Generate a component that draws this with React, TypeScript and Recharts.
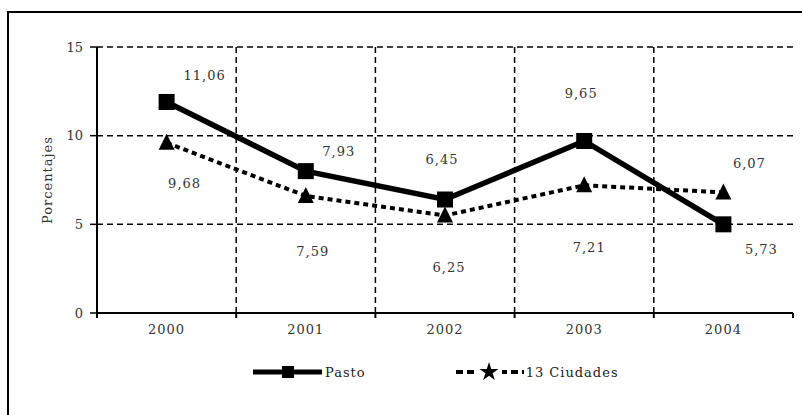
import { CartesianGrid, LabelList, Legend, Line, LineChart, Symbols, XAxis, YAxis } from "recharts";

const years = ["2000", "2001", "2002", "2003", "2004"];
const pasto = [11.9, 8.0, 6.4, 9.7, 5.0];
const ciudades = [9.6, 6.6, 5.5, 7.2, 6.8];
const pastoLabels = ["11,06", "7,93", "6,45", "9,65", "5,73"];
const ciudadesLabels = ["9,68", "7,59", "6,25", "7,21", "6,07"];
const yTicks = [0, 5, 10, 15];

// where each value label sits relative to its marker (px)
const pastoLabelOffsets = [[38, -26], [33, -20], [-3, -40], [-3, -47], [38, 25]];
const ciudadesLabelOffsets = [[18, 41], [7, 56], [4, 52], [5, 62], [26, -29]];

const data = years.map((year, i) => ({ year, pasto: pasto[i], ciudades: ciudades[i] }));

const FONT = "'DejaVu Serif', serif";
const TEXT = "#333";

function SquareDot({ cx, cy, index }: any) {
  return <rect key={`sq-${index}`} x={cx - 8} y={cy - 8} width={16} height={16} fill="#000" />;
}

function TriangleDot({ cx, cy, index }: any) {
  return (
    <path
      key={`tr-${index}`}
      d={`M${cx},${cy - 9} L${cx + 8},${cy + 7} L${cx - 8},${cy + 7} Z`}
      fill="#000"
    />
  );
}

// year label plus the small tick marks on the band edges
function YearTick(props: any) {
  const { x, y, payload, index, visibleTicksCount, width } = props;
  const band = (width || 697) / (visibleTicksCount || years.length);
  const axisY = y - 12;
  const left = x - band / 2;
  return (
    <g>
      <line x1={left} y1={axisY} x2={left} y2={axisY + 5} stroke="#000" strokeWidth={2} />
      {index === visibleTicksCount - 1 && (
        <line x1={x + band / 2} y1={axisY} x2={x + band / 2} y2={axisY + 5} stroke="#000" strokeWidth={2} />
      )}
      <text x={x} y={y} dy="0.71em" textAnchor="middle" fontFamily={FONT} fontSize={13} letterSpacing={1} fill={TEXT}>
        {payload.value}
      </text>
    </g>
  );
}

function valueLabel(texts: string[], offsets: number[][]) {
  return (props: any) => {
    const { x, y, index } = props;
    const [dx, dy] = offsets[index];
    return (
      <text
        x={x + dx}
        y={y + dy}
        textAnchor="middle"
        dominantBaseline="central"
        fontFamily={FONT}
        fontSize={13}
        letterSpacing={1}
        fill={TEXT}
      >
        {texts[index]}
      </text>
    );
  };
}

function LegendContent() {
  return (
    <div style={{ display: "flex", alignItems: "center", height: 20, fontFamily: FONT, fontSize: 13, color: "#222", letterSpacing: 1 }}>
      <svg width={70} height={20}>
        <line x1={0} y1={10} x2={69} y2={10} stroke="#000" strokeWidth={5} />
        <rect x={29} y={4} width={12} height={12} fill="#000" />
      </svg>
      <span style={{ marginLeft: 2 }}>Pasto</span>
      <svg width={70} height={20} style={{ marginLeft: 90 }}>
        <line x1={0} y1={10} x2={68} y2={10} stroke="#000" strokeWidth={4} strokeDasharray="7 4" />
        <rect x={22} y={2} width={24} height={16} fill="#fff" />
        <Symbols cx={33} cy={10} type="star" size={110} fill="#000" />
      </svg>
      <span>13 Ciudades</span>
    </div>
  );
}

export default function App() {
  return (
    <div style={{ position: "absolute", left: 0, top: 0, width: 802, height: 415, overflow: "hidden", background: "#fff" }}>
      <div
        style={{
          position: "absolute",
          left: 7,
          top: 11,
          width: 795,
          height: 404,
          boxSizing: "border-box",
          borderTop: "2px solid #000",
          borderLeft: "2px solid #000",
        }}
      />
      <div style={{ position: "absolute", left: 0, top: 0 }}>
        <LineChart width={802} height={415} data={data} margin={{ top: 47, right: 9, left: 57, bottom: 33 }}>
          <CartesianGrid
            stroke="#000"
            strokeWidth={1.5}
            strokeDasharray="6 4"
            verticalCoordinatesGenerator={({ offset }: any) =>
              years.slice(1).map((_, i) => offset.left + ((i + 1) * offset.width) / years.length)
            }
          />
          <XAxis
            dataKey="year"
            scale="band"
            height={49}
            axisLine={{ stroke: "#000", strokeWidth: 2 }}
            tickLine={false}
            tickSize={6}
            tickMargin={6}
            tick={<YearTick />}
          />
          <XAxis
            xAxisId="top"
            orientation="top"
            dataKey="year"
            height={0}
            tick={false}
            tickLine={false}
            axisLine={{ stroke: "#8a8a8a", strokeWidth: 3 }}
          />
          <YAxis
            domain={[0, 15]}
            ticks={yTicks}
            width={40}
            axisLine={{ stroke: "#000", strokeWidth: 2 }}
            tickLine={{ stroke: "#000", strokeWidth: 1.5 }}
            tickSize={7}
            tickMargin={7}
            tick={{ fontFamily: FONT, fontSize: 13, fill: TEXT }}
            label={({ viewBox }: any) => (
              <text
                x={viewBox.x - 10}
                y={viewBox.y + viewBox.height / 2}
                transform={`rotate(-90, ${viewBox.x - 10}, ${viewBox.y + viewBox.height / 2})`}
                textAnchor="middle"
                dominantBaseline="central"
                fontFamily={FONT}
                fontSize={13}
                letterSpacing={1}
                fill={TEXT}
              >
                Porcentajes
              </text>
            )}
          />
          <YAxis
            yAxisId="right"
            orientation="right"
            domain={[0, 15]}
            width={0}
            tick={false}
            tickLine={false}
            axisLine={{ stroke: "#8a8a8a", strokeWidth: 3 }}
          />
          <Legend
            verticalAlign="bottom"
            content={<LegendContent />}
            wrapperStyle={{ left: 253, width: 420 }}
          />
          <Line
            dataKey="ciudades"
            name="13 Ciudades"
            stroke="#000"
            strokeWidth={4}
            strokeDasharray="5 4"
            dot={<TriangleDot />}
            isAnimationActive={false}
          >
            <LabelList dataKey="ciudades" content={valueLabel(ciudadesLabels, ciudadesLabelOffsets)} />
          </Line>
          <Line
            dataKey="pasto"
            name="Pasto"
            stroke="#000"
            strokeWidth={5.5}
            dot={<SquareDot />}
            isAnimationActive={false}
          >
            <LabelList dataKey="pasto" content={valueLabel(pastoLabels, pastoLabelOffsets)} />
          </Line>
        </LineChart>
      </div>
    </div>
  );
}
